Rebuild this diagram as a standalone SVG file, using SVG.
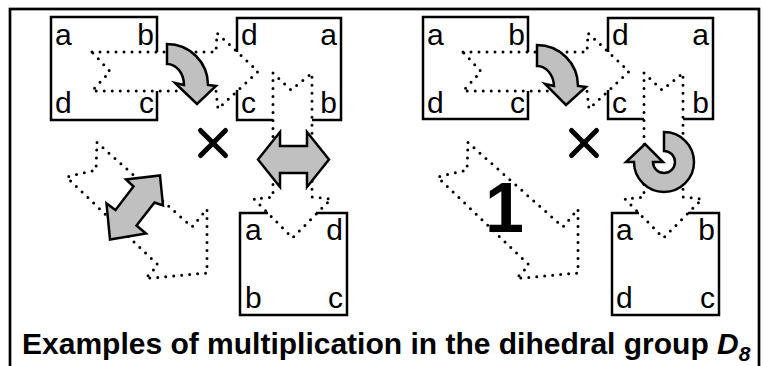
<svg xmlns="http://www.w3.org/2000/svg" width="765" height="366" viewBox="0 0 765 366">
<style>
.box{fill:none;stroke:#000;stroke-width:2.5;stroke-linejoin:miter}
.dot{fill:none;stroke:#000;stroke-width:3;stroke-dasharray:0 8;stroke-linecap:round;stroke-linejoin:round}
.gray{fill:#c0c0c0;stroke:#000;stroke-width:2.5;stroke-linejoin:miter}
.lbl{font-family:"Liberation Sans",Arial,sans-serif;font-size:30px;fill:#000}
.x{stroke:#000;stroke-width:5;stroke-linecap:round}
.title{font-family:"Liberation Sans",Arial,sans-serif;font-size:30px;font-weight:bold;fill:#000}
</style>
<rect x="10" y="9" width="749" height="360" fill="#fff" stroke="#000" stroke-width="2.7"/>

<!-- Left panel -->
<g id="left-sq1">
<path class="box" d="M157,52 V17 H51 V120 H157 V91"/>
<text class="lbl" x="55" y="45">a</text>
<text class="lbl" x="154" y="45" text-anchor="end">b</text>
<text class="lbl" x="55" y="113">d</text>
<text class="lbl" x="154" y="113" text-anchor="end">c</text>
</g>
<g id="left-sq2">
<path class="box" d="M237,52 V18 H341 V120 H312 M273,120 H237 V90"/>
<text class="lbl" x="241" y="45">d</text>
<text class="lbl" x="337" y="45" text-anchor="end">a</text>
<text class="lbl" x="241" y="113">c</text>
<text class="lbl" x="337" y="113" text-anchor="end">b</text>
</g>
<g id="left-sq3">
<path class="box" d="M268,213 H240 V315 H347 V213 H316"/>
<text class="lbl" x="245" y="240">a</text>
<text class="lbl" x="343" y="240" text-anchor="end">d</text>
<text class="lbl" x="245" y="308">b</text>
<text class="lbl" x="343" y="308" text-anchor="end">c</text>
</g>

<!-- Right panel -->
<g id="right-sq1">
<path class="box" d="M528,52 V17 H423 V119 H528 V91"/>
<text class="lbl" x="427" y="45">a</text>
<text class="lbl" x="525" y="45" text-anchor="end">b</text>
<text class="lbl" x="427" y="113">d</text>
<text class="lbl" x="525" y="113" text-anchor="end">c</text>
</g>
<g id="right-sq2">
<path class="box" d="M608,52 V18 H713 V119 H683 M644,119 H608 V90"/>
<text class="lbl" x="612" y="45">d</text>
<text class="lbl" x="709" y="45" text-anchor="end">a</text>
<text class="lbl" x="612" y="113">c</text>
<text class="lbl" x="709" y="113" text-anchor="end">b</text>
</g>
<g id="right-sq3">
<path class="box" d="M639,213 H612 V315 H719 V213 H688"/>
<text class="lbl" x="616" y="240">a</text>
<text class="lbl" x="715" y="240" text-anchor="end">b</text>
<text class="lbl" x="616" y="308">d</text>
<text class="lbl" x="715" y="308" text-anchor="end">c</text>
</g>

<g id="connectors">
<path class="dot" d="M92,52 L216,52 L217,33 L258,71.5 L218,109 L216,91 L92,91 L110,71.5 Z"/>
<path class="dot" d="M273,73 L291,90 L312,73 L312,197 L331,199 L292.5,238 L254,199 L273,197 Z"/>
<path class="dot" d="M97,142.5 L192,227 L207,209 L207,273 L145.5,278.5 L158,265 L66.5,177 L96,170 Z"/>
<path class="dot" d="M463,52 L587,52 L588,33 L629,71.5 L589,109 L587,91 L463,91 L481,71.5 Z"/>
<path class="dot" d="M644,73 L662,90 L683,73 L683,197 L702,199 L663.5,238 L625,199 L644,197 Z"/>
<path class="dot" d="M468,142.5 L563,227 L578,209 L578,273 L516.5,278.5 L529,265 L437.5,177 L467,170 Z"/>
</g>

<g id="left-rot">
<path class="gray" d="M167,44 A41,41 0 0 1 208,85 L216,86 L197,104 L175,83 L184,85 A17,21 0 0 0 167,64 Z"/>
</g>
<g id="left-flip-h">
<path class="gray" d="M258,159.5 L280,132 L280,146 L307,146 L307,132 L329,159.5 L307,187 L307,173 L280,173 L280,187 Z"/>
</g>
<g id="left-flip-d">
<path class="gray" d="M160,175.5 L163,205.5 L154.5,202.5 L136.5,225.5 L146,233.5 L110,239.5 L106.5,203.5 L115.5,210 L133.5,186.5 L126,179.5 Z"/>
</g>
<g id="right-rot">
<path class="gray" d="M537,45 A41,41 0 0 1 578,86 L586,87 L566,105 L545,84 L554,86 A17,21 0 0 0 537,66 Z"/>
</g>
<g id="right-rot-full">
<path class="gray" d="M664,132 A30,30 0 1 1 634,162 L626,162 L645,144 L663,162 L653,162 A11,11 0 1 0 664,151 Z"/>
</g>

<g id="times-left">
<line class="x" x1="200.5" y1="130.5" x2="225.5" y2="155.5"/>
<line class="x" x1="225.5" y1="130.5" x2="200.5" y2="155.5"/>
</g>
<g id="times-right">
<line class="x" x1="571.5" y1="130.5" x2="596.5" y2="155.5"/>
<line class="x" x1="596.5" y1="130.5" x2="571.5" y2="155.5"/>
</g>

<g id="identity">
<text x="485" y="232" font-family="Liberation Sans,Arial,sans-serif" font-size="70" font-weight="bold">1</text>
</g>

<text class="title" x="22" y="354">Examples of multiplication in the dihedral group <tspan font-style="italic">D</tspan><tspan font-style="italic" font-size="21" dy="7">8</tspan></text>
</svg>
